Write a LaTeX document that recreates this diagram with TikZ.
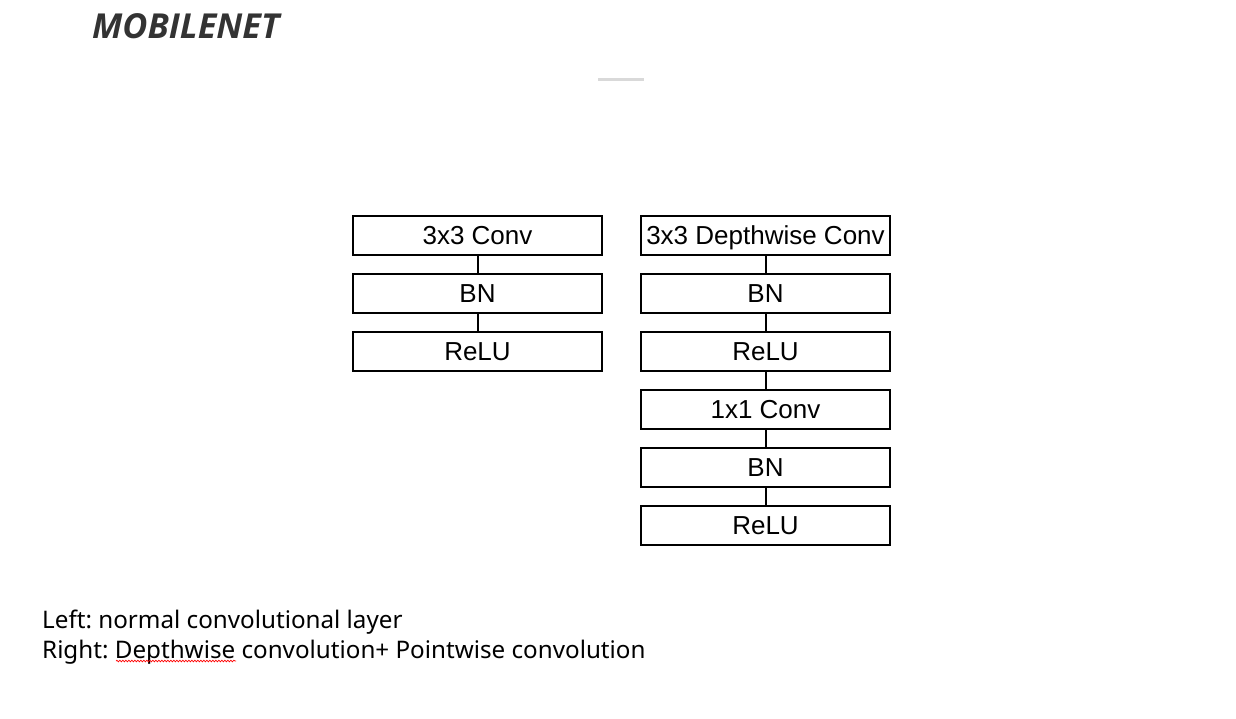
\documentclass[tikz,border=0pt]{standalone}
\usepackage{fontspec}
\setmainfont{Liberation Sans}
\newfontfamily\titlefont{Open Sans}
\newfontfamily\notefont{Noto Sans}
\usetikzlibrary{decorations.pathmorphing}
\definecolor{titlegray}{HTML}{333333}
\definecolor{rulegray}{HTML}{D9D9D9}
\frenchspacing
\tikzset{
  layer/.style={draw=black, line width=2pt, minimum width=249pt, minimum height=39pt, inner sep=0pt,
    text height=18.6pt, text depth=0pt, font=\fontsize{26}{30}\selectfont},
  link/.style={draw=black, line width=2pt},
  note/.style={anchor=base west, inner sep=0pt, font=\notefont\fontsize{24.2}{28}\selectfont}
}
\begin{document}
\begin{tikzpicture}[x=1pt,y=-1pt]
\useasboundingbox[fill=white] (0,0) rectangle (1236,718);
\node[anchor=base west, inner sep=0pt, text=titlegray, font=\titlefont\bfseries\itshape\fontsize{34.4}{38}\selectfont] (title) at (92,38) {MOBILENET};
\draw[rulegray, line width=3pt] (598,79) -- (644,79);
% left column
\node[layer] (l1) at (477.5,235.5) {3x3 Conv};
\node[layer] (l2) at (477.5,293.5) {BN};
\node[layer] (l3) at (477.5,351.5) {ReLU};
% right column
\node[layer] (r1) at (765.5,235.5) {3x3 Depthwise Conv};
\node[layer] (r2) at (765.5,293.5) {BN};
\node[layer] (r3) at (765.5,351.5) {ReLU};
\node[layer] (r4) at (765.5,409.5) {1x1 Conv};
\node[layer] (r5) at (765.5,467.5) {BN};
\node[layer] (r6) at (765.5,525.5) {ReLU};
\draw[link] (l1) -- (l2);
\draw[link] (l2) -- (l3);
\draw[link] (r1) -- (r2);
\draw[link] (r2) -- (r3);
\draw[link] (r3) -- (r4);
\draw[link] (r4) -- (r5);
\draw[link] (r5) -- (r6);
\node[note] (n1) at (42,628) {Left: normal convolutional layer};
\node[note] (n2) at (42,658) {Right: Depthwise convolution+ Pointwise convolution};
\draw[red, line width=0.7pt, decorate, decoration={snake, amplitude=0.8pt, segment length=3pt}] (116,661) -- (236,661);
\end{tikzpicture}
\end{document}
